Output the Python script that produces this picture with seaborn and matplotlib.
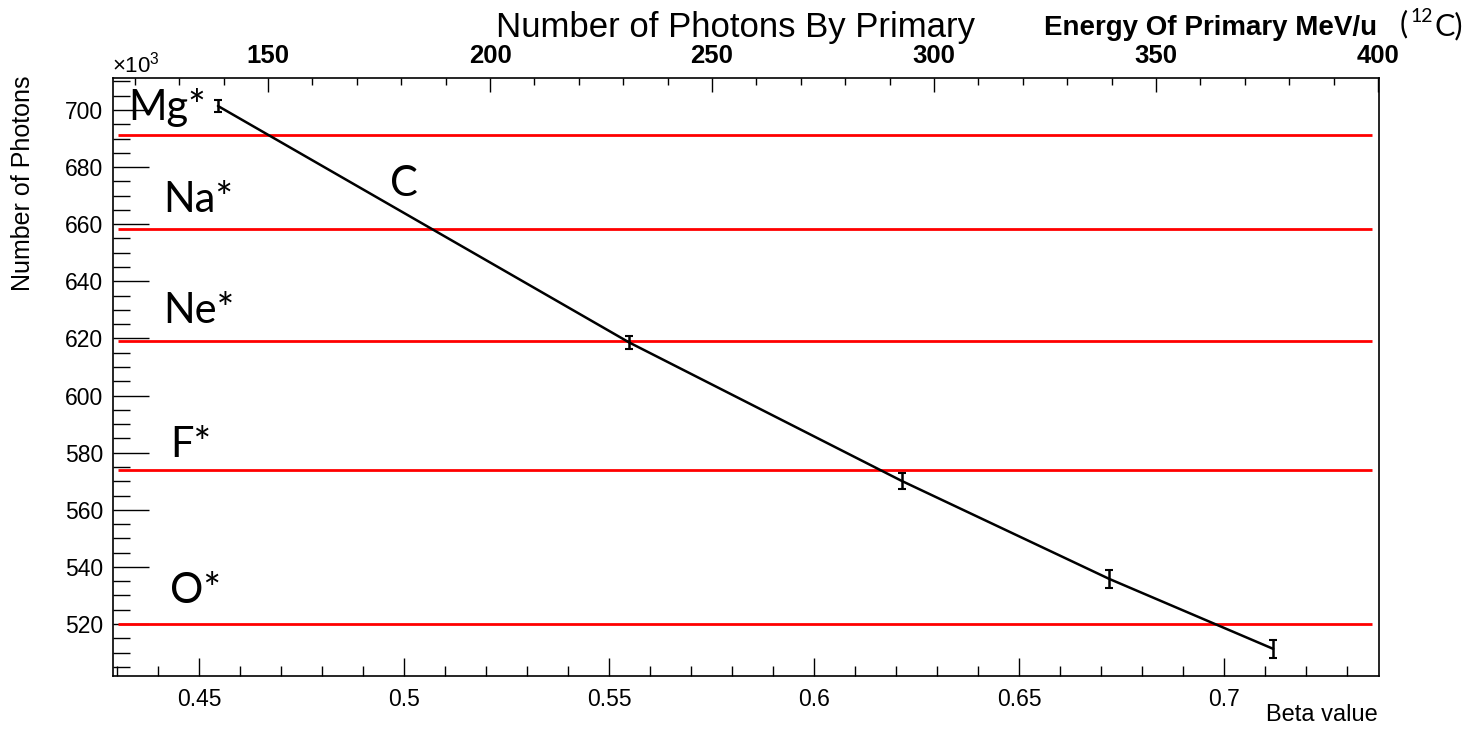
import numpy as np
import pandas as pd
import seaborn as sns
import matplotlib.pyplot as plt
from matplotlib.ticker import MultipleLocator

# Data (photons in units of 10^3)
beta = [0.4546, 0.5549, 0.6214, 0.6720, 0.7120]
photons = [701.4, 618.6, 570.1, 535.8, 511.3]
photons_err = [2.1, 2.3, 2.8, 3.2, 3.2]

# Threshold lines for excited states
levels = ['Mg*', 'Na*', 'Ne*', 'F*', 'O*']
level_values = [691.2, 658.3, 619.1, 573.9, 520.0]
level_label_x = [0.4327, 0.4412, 0.4412, 0.4429, 0.4429]
level_label_y = [696.5, 664.3, 625.4, 578.5, 527.4]

data = pd.DataFrame({'beta': beta, 'photons': photons})

sns.set_style('white')
plt.rcParams['font.family'] = ['Liberation Sans', 'DejaVu Sans']
plt.rcParams['text.color'] = 'black'
plt.rcParams['xtick.color'] = 'black'
plt.rcParams['ytick.color'] = 'black'
plt.rcParams['mathtext.fontset'] = 'custom'
plt.rcParams['mathtext.rm'] = 'Liberation Sans'
plt.rcParams['mathtext.it'] = 'Liberation Sans'

fig = plt.figure(figsize=(14.74, 7.31), dpi=100)
ax = fig.add_axes([113 / 1474, 1 - 676 / 731, (1379 - 113) / 1474, (676 - 78) / 731])

# red level lines
ax.hlines(level_values, 0.4302, 0.7360, color='#ff0000', lw=2.0, zorder=2)

# photon curve
sns.lineplot(data=data, x='beta', y='photons', ax=ax, color='black', lw=1.8, zorder=3)
ax.errorbar(beta, photons, yerr=photons_err, fmt='none', ecolor='black',
            elinewidth=1.8, capsize=3, capthick=1.5, zorder=4)

ax.set_xlim(0.429, 0.7378)
ax.set_ylim(501.8, 711.2)

for spine in ax.spines.values():
    spine.set_color('black')
    spine.set_linewidth(1.2)

ax.xaxis.set_major_locator(MultipleLocator(0.05))
ax.xaxis.set_minor_locator(MultipleLocator(0.01))
ax.yaxis.set_major_locator(MultipleLocator(20))
ax.yaxis.set_minor_locator(MultipleLocator(5))
ax.xaxis.set_major_formatter(plt.FuncFormatter(lambda v, p: f'{v:g}'))

ax.tick_params(axis='x', which='major', direction='in', length=13, width=1, pad=9,
               labelsize=16.5, top=False, bottom=True)
ax.tick_params(axis='x', which='minor', direction='in', length=7, width=1,
               top=False, bottom=True)
ax.tick_params(axis='y', which='major', direction='in', length=26, width=1, pad=7,
               labelsize=16.5, right=False, left=True)
ax.tick_params(axis='y', which='minor', direction='in', length=12, width=1,
               right=False, left=True)

ax.set_xlabel('')
ax.set_ylabel('')
fig.text(1378 / 1474, 1 - 715 / 731, 'Beta value', ha='right', va='center', fontsize=17)
fig.text(23 / 1474, 1 - 183 / 731, 'Number of Photons', rotation=90, ha='center',
         va='center', fontsize=18)
fig.text(112 / 1474, 1 - 73 / 731, '×10$^3$', ha='left', va='baseline', fontsize=16)

# top energy axis
ax2 = ax.twiny()
ax2.set_xlim(115.1, 400.2)
ax2.xaxis.set_major_locator(MultipleLocator(50))
ax2.xaxis.set_minor_locator(MultipleLocator(10))
ax2.tick_params(axis='x', which='major', direction='in', length=10, width=1, pad=7,
                labelsize=18.5)
ax2.tick_params(axis='x', which='minor', direction='in', length=5, width=1)
for lbl in ax2.get_xticklabels():
    lbl.set_fontweight('bold')
for spine in ax2.spines.values():
    spine.set_visible(False)
ax2.grid(False)

# titles
fig.text(735 / 1474, 1 - 37 / 731, 'Number of Photons By Primary', ha='center',
         va='baseline', fontsize=25)
fig.text(1377 / 1474, 1 - 35 / 731, 'Energy Of Primary MeV/u', ha='right', va='baseline',
         fontsize=20, fontweight='bold')
lato = ['Lato', 'DejaVu Sans']
fig.text(1400 / 1474, 1 - 33 / 731, '(', ha='left', va='baseline', fontsize=22, family=lato)
fig.text(1410 / 1474, 1 - 22 / 731, '12', ha='left', va='baseline', fontsize=14, family=lato)
fig.text(1434 / 1474, 1 - 35 / 731, 'C)', ha='left', va='baseline', fontsize=22, family=lato)

# level labels
for name, lx, ly in zip(levels, level_label_x, level_label_y):
    ax.text(lx, ly, name, ha='left', va='baseline', fontsize=30, family=lato, zorder=5)
ax.text(0.4966, 669.9, 'C', ha='left', va='baseline', fontsize=30, family=lato, zorder=5)

fig.savefig('out.png', dpi=100)
